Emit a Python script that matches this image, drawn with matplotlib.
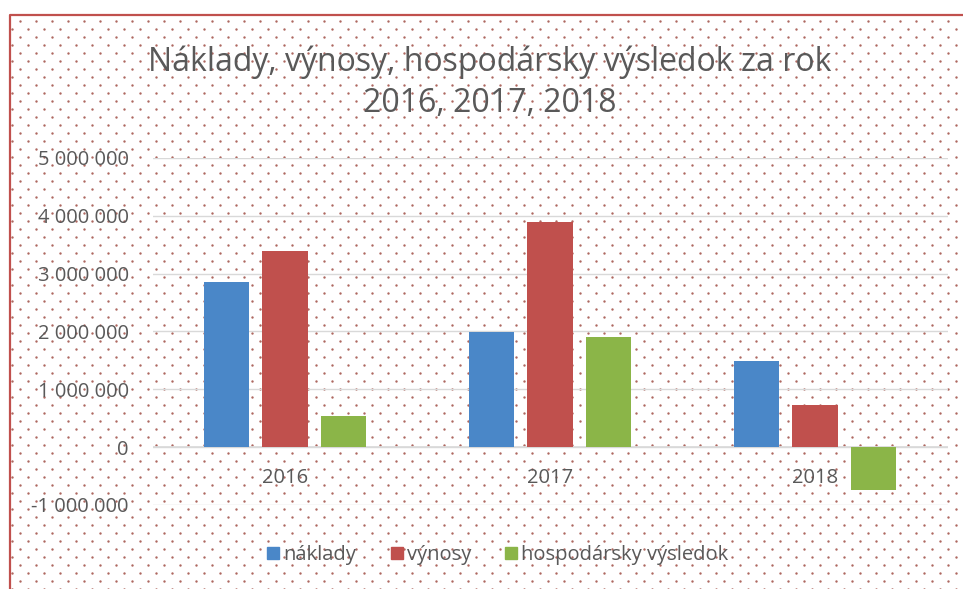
import numpy as np
import matplotlib
matplotlib.use('Agg')
import matplotlib.pyplot as plt
from matplotlib.ticker import FuncFormatter
from matplotlib.patches import Patch

TEXT = '#595959'
GRID = '#d9d9d9'
DOT = '#a5574f'
FRAME = '#c0504d'
BLUE = '#4a87c8'
RED = '#c0504d'
GREEN = '#8bb548'

years = ['2016', '2017', '2018']
naklady = [2850000, 1990000, 1490000]
vynosy = [3390000, 3890000, 730000]
vysledok = [540000, 1900000, -740000]
series_names = ['náklady', 'výnosy', 'hospodársky výsledok']

plt.rcParams['font.family'] = ['Open Sans', 'DejaVu Sans']

W, H = 963, 589
fig = plt.figure(figsize=(W / 100, H / 100), dpi=100)
fig.patch.set_facecolor('white')

# dotted background pattern (in pixel coordinates of the figure)
bg = fig.add_axes([0, 0, 1, 1], zorder=0)
bg.set_xlim(0, W)
bg.set_ylim(H, 0)
bg.axis('off')
xs, ys = [], []
for i, yy in enumerate(np.arange(20.5, H, 8)):
    start = 20 if i % 2 == 0 else 12
    for xx in np.arange(start, W, 16):
        xs.append(xx)
        ys.append(yy)
bg.scatter(xs, ys, s=3, color=DOT, linewidths=0, alpha=0.9)
bg.plot([9.5, 9.5, W + 5], [H + 5, 14.5, 14.5], color=FRAME, lw=1.6)

# main plot area
ax = fig.add_axes([152.5 / W, 1 - 505 / H, 795 / W, 347 / H], zorder=1)
ax.patch.set_alpha(0)
x = np.arange(len(years))
w = 0.17
off = 0.219
ax.bar(x - off, naklady, w, color=BLUE, zorder=3)
ax.bar(x, vynosy, w, color=RED, zorder=3)
ax.bar(x + off, vysledok, w, color=GREEN, zorder=3)

ax.set_xlim(-0.5, len(years) - 0.5)
ax.set_ylim(-1000000, 5000000)
ax.set_yticks(np.arange(-1000000, 5000001, 1000000))
ax.yaxis.set_major_formatter(FuncFormatter(lambda v, p: f'{int(v):,}'.replace(',', ' ')))
ax.grid(axis='y', color=GRID, lw=1, zorder=0)
ax.axhline(0, color=GRID, lw=1.2, zorder=2)
for s in ax.spines.values():
    s.set_visible(False)
ax.tick_params(axis='y', length=0, pad=17, labelsize=14.5, labelcolor=TEXT)
ax.set_xticks([])
for xi, yr in zip(x, years):
    ax.text(xi, -360000, yr, ha='center', va='top', fontsize=14.5, color=TEXT)

fig.text(490 / W, 1 - 62 / H, 'Náklady, výnosy, hospodársky výsledok za rok',
         ha='center', va='center', fontsize=23, color=TEXT)
fig.text(490 / W, 1 - 104 / H, '2016, 2017, 2018',
         ha='center', va='center', fontsize=23, color=TEXT)

handles = [Patch(color=c) for c in (BLUE, RED, GREEN)]
fig.legend(handles, series_names, loc='center', bbox_to_anchor=(498 / W, 1 - 555 / H),
           ncol=3, frameon=False, fontsize=14.5, labelcolor=TEXT,
           handlelength=0.6, handleheight=0.6, handletextpad=0.2, columnspacing=1.7)

fig.savefig('out.png', dpi=100, facecolor='white')
